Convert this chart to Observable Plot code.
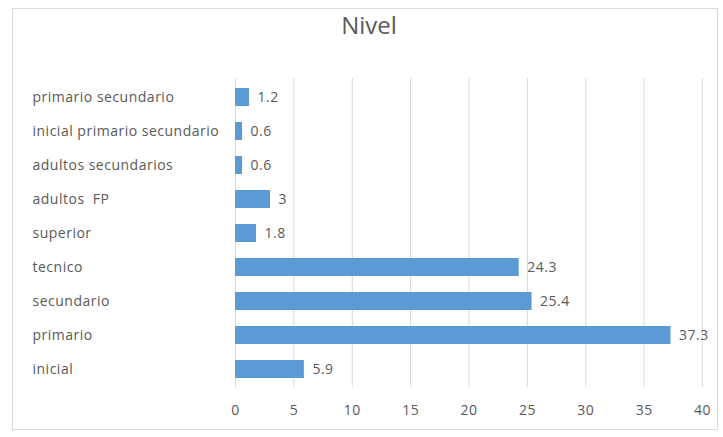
<!DOCTYPE html>
<html>
<head>
<meta charset="utf-8">
<script src="https://cdn.jsdelivr.net/npm/d3@7"></script>
<script src="https://cdn.jsdelivr.net/npm/@observablehq/plot@0.6"></script>
<style>
  body { margin: 0; background: #fff; font-family: "Open Sans", sans-serif; }
  #wrap { position: relative; width: 723px; height: 437px; overflow: hidden; }
  #frame { position: absolute; left: 12px; top: 8px; width: 706px; height: 422px; border: 1px solid #d9d9d9; box-sizing: border-box; }
  #title { position: absolute; left: 0; width: 738px; top: 13px; line-height: 1; text-align: center; font-size: 24px; color: #595959; }
  #chart { position: absolute; left: 0; top: 0; }
</style>
</head>
<body>
<div id="wrap">
  <div id="frame"></div>
  <div id="title">Nivel</div>
  <div id="chart"></div>
</div>
<script>
const categories = ["primario secundario", "inicial primario secundario", "adultos secundarios", "adultos  FP", "superior", "tecnico", "secundario", "primario", "inicial"];
const values = [1.2, 0.6, 0.6, 3, 1.8, 24.3, 25.4, 37.3, 5.9];
const valueLabels = ["1.2", "0.6", "0.6", "3", "1.8", "24.3", "25.4", "37.3", "5.9"];
const xTicks = [0, 5, 10, 15, 20, 25, 30, 35, 40];

const data = categories.map((c, i) => ({ cat: c, value: values[i], label: valueLabels[i] }));

const chart = Plot.plot({
  width: 723,
  height: 437,
  marginLeft: 235,
  marginRight: 21,
  marginTop: 78,
  marginBottom: 50,
  style: { fontFamily: "Open Sans, sans-serif", fontSize: "14px", letterSpacing: "0.5px", color: "#595959", background: "transparent" },
  x: { domain: [0, 40], ticks: xTicks },
  y: { domain: categories, paddingInner: 0.48, paddingOuter: 0.24, label: null },
  marks: [
    Plot.gridX(xTicks, { stroke: "#d9d9d9", strokeOpacity: 1 }),
    Plot.barX(data, { x: "value", y: "cat", fill: "#5b9bd5" }),
    Plot.text(data, { x: "value", y: "cat", text: "label", dx: 8, textAnchor: "start", fill: "#595959", fontSize: 14 }),
    Plot.axisX({ ticks: xTicks, tickSize: 0, tickPadding: 18, label: null, fill: "#595959" }),
    Plot.axisY({ tickSize: 0, tickPadding: 203, textAnchor: "start", label: null, fill: "#595959" })
  ]
});
document.getElementById("chart").appendChild(chart);
</script>
</body>
</html>
